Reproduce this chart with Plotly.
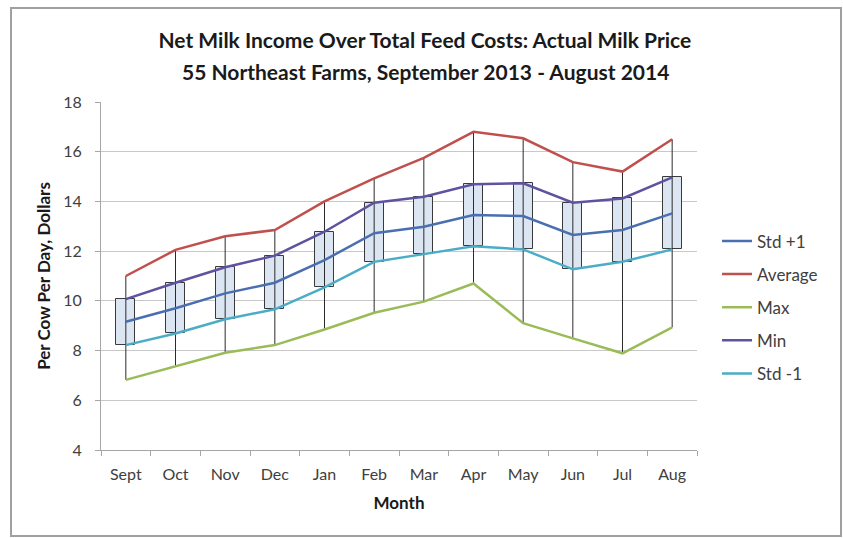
import plotly.graph_objects as go

months = ["Sept", "Oct", "Nov", "Dec", "Jan", "Feb", "Mar", "Apr", "May", "Jun", "Jul", "Aug"]

std_plus1 = [9.16, 9.70, 10.30, 10.73, 11.64, 12.72, 12.98, 13.45, 13.41, 12.65, 12.85, 13.52]
average = [11.00, 12.05, 12.60, 12.85, 14.00, 14.93, 15.75, 16.80, 16.54, 15.58, 15.20, 16.50]
max_vals = [6.82, 7.38, 7.91, 8.22, 8.85, 9.52, 9.97, 10.70, 9.10, 8.49, 7.89, 8.93]
min_vals = [10.07, 10.73, 11.35, 11.82, 12.78, 13.95, 14.19, 14.69, 14.73, 13.95, 14.12, 14.97]
std_minus1 = [8.22, 8.69, 9.26, 9.66, 10.54, 11.57, 11.88, 12.20, 12.07, 11.27, 11.57, 12.07]

y_ticks = [4, 6, 8, 10, 12, 14, 16, 18]

FONT = "Lato, 'Open Sans', sans-serif"
TXT = "#404040"
DARK = "#1a1a1a"

fig = go.Figure()

# Up-down boxes between the Std -1 and Min series
fig.add_trace(go.Bar(
    x=months,
    y=[hi - lo for hi, lo in zip(min_vals, std_minus1)],
    base=std_minus1,
    width=0.38,
    marker=dict(color="#dce6f2", line=dict(color="#3a3a3a", width=1)),
    showlegend=False,
    hoverinfo="skip",
))

# High-low lines spanning the Average and Max series
hl_x, hl_y = [], []
for m, top, bot in zip(months, average, max_vals):
    hl_x += [m, m, None]
    hl_y += [top, bot, None]
fig.add_trace(go.Scatter(
    x=hl_x, y=hl_y, mode="lines",
    line=dict(color="#2b2b2b", width=1),
    showlegend=False, hoverinfo="skip",
))

series = [
    ("Std +1", std_plus1, "#4a6fb0"),
    ("Average", average, "#c0504d"),
    ("Max", max_vals, "#9bbb59"),
    ("Min", min_vals, "#5f529e"),
    ("Std -1", std_minus1, "#4bacc6"),
]
for name, vals, color in series:
    fig.add_trace(go.Scatter(
        x=months, y=vals, name=name, mode="lines",
        line=dict(color=color, width=2.5),
        legendgroup=name,
    ))

fig.update_layout(
    width=843, height=538,
    margin=dict(l=101, r=146, t=102, b=88),
    paper_bgcolor="white",
    plot_bgcolor="white",
    font=dict(family=FONT, size=16, color=TXT),
    title=dict(
        text="<b>Net Milk Income Over Total Feed Costs: Actual Milk Price</b>",
        x=0.504, xanchor="center", xref="container",
        y=1 - 41 / 538, yanchor="middle", yref="container",
        font=dict(size=21, color=DARK),
    ),
    showlegend=True,
    legend=dict(
        x=1.0336, xanchor="left", y=0.651, yanchor="top",
        font=dict(size=17, color=TXT),
        tracegroupgap=8,
        bgcolor="rgba(0,0,0,0)",
    ),
    bargap=0,
    xaxis=dict(
        type="category",
        showgrid=False,
        showline=True, linecolor="#a6a6a6", linewidth=1,
        ticks="outside", ticklen=5, tickcolor="#a6a6a6",
        tickson="boundaries",
        tickfont=dict(size=16, color=TXT),
        ticklabelstandoff=10,
        title=dict(text="<b>Month</b>", font=dict(size=17, color=DARK), standoff=14),
        range=[-0.5, 11.5],
    ),
    yaxis=dict(
        range=[4, 18],
        tickvals=y_ticks,
        showgrid=True, gridcolor="#c8c8c8", gridwidth=1,
        showline=True, linecolor="#a6a6a6", linewidth=1,
        ticks="outside", ticklen=5, tickcolor="#a6a6a6",
        tickfont=dict(size=16, color=TXT),
        ticklabelstandoff=10,
        zeroline=False,
        title=dict(text="<b>Per Cow Per Day, Dollars</b>", font=dict(size=17, color=DARK), standoff=8),
    ),
    annotations=[dict(
        text="<b>55 Northeast Farms, September 2013 - August 2014</b>",
        xref="paper", yref="paper",
        x=(425 - 101) / 596, y=(450 - 72) / 348,
        xanchor="center", yanchor="middle", showarrow=False,
        font=dict(size=21, color=DARK),
    )],
    shapes=[dict(
        type="rect", xref="paper", yref="paper", layer="below",
        x0=(11 - 101) / 596, x1=(841 - 101) / 596,
        y0=(450 - 536) / 348, y1=(450 - 8) / 348,
        line=dict(color="#a0a0a0", width=2),
        fillcolor="rgba(0,0,0,0)",
    )],
)

fig.write_html("out.html")
